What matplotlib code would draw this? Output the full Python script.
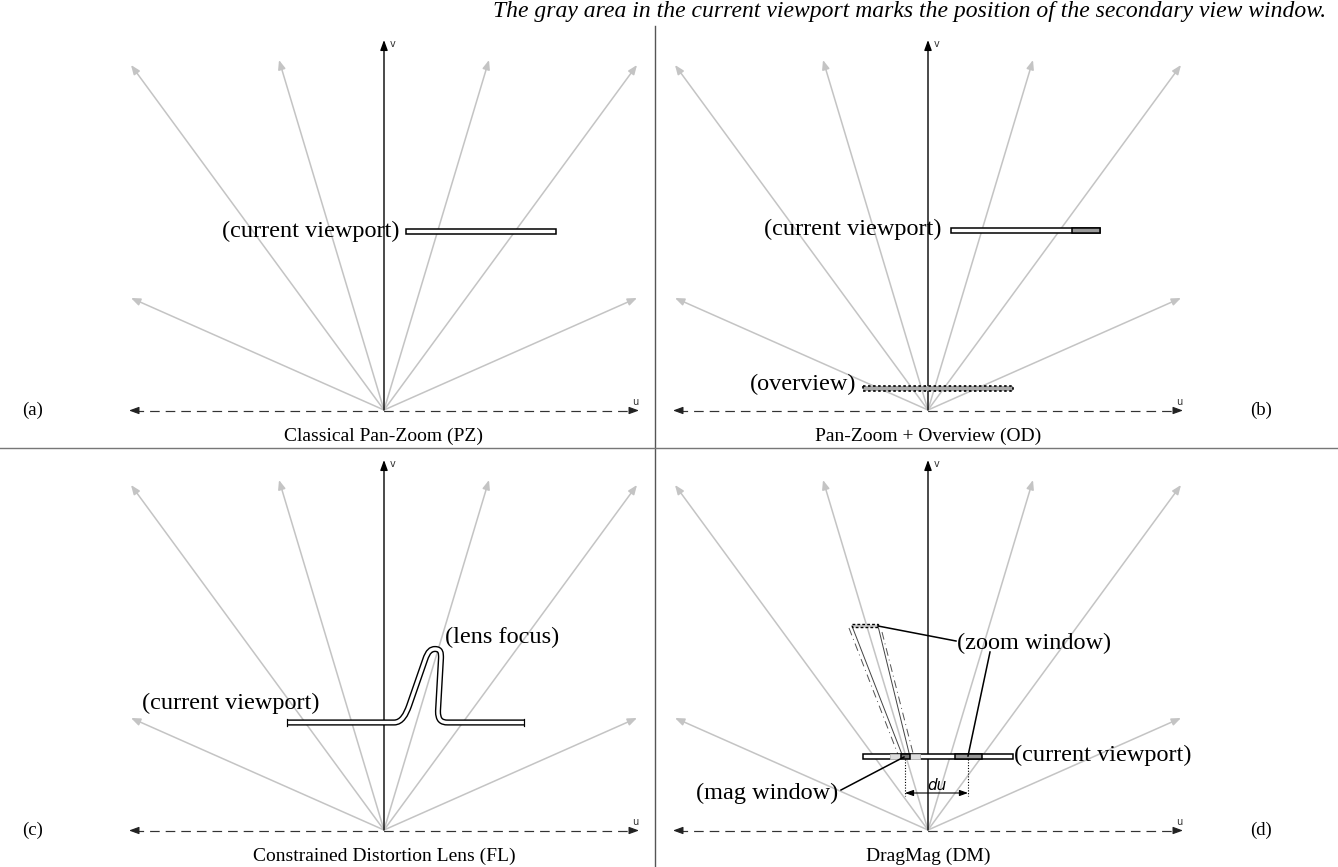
import matplotlib
matplotlib.use('Agg')
import matplotlib.pyplot as plt
from matplotlib.patches import Rectangle, PathPatch
from matplotlib.path import Path

# ---------------- data ----------------
panel_letters = ['(a)', '(b)', '(c)', '(d)']
panel_titles = ['Classical Pan-Zoom (PZ)', 'Pan-Zoom + Overview (OD)',
                'Constrained Distortion Lens (FL)', 'DragMag (DM)']
origins_x = [384, 928, 384, 928]
origins_y = [410, 410, 830, 830]
# ray tips relative to each panel origin (pixels, up positive)
ray_dx = [-253, -253, -105, 105, 253, 253]
ray_dy = [112, 345, 350, 350, 345, 112]
caption = ('The gray area in the current viewport marks the position '
           'of the secondary view window.')
label_viewport = '(current viewport)'
label_overview = '(overview)'
label_lens = '(lens focus)'
label_zoom = '(zoom window)'
label_mag = '(mag window)'
label_du = 'du'

W, H = 1338, 867
fig = plt.figure(figsize=(W / 100, H / 100), dpi=100)
ax = fig.add_axes([0, 0, 1, 1])
ax.set_xlim(0, W)
ax.set_ylim(H, 0)
ax.axis('off')

SERIF = ['Liberation Serif', 'DejaVu Serif']
SANS = ['DejaVu Sans']
RAY = '#c4c4c4'
PX = 0.72  # points per pixel
LBL = 17.5

# dividers
ax.plot([655, 655], [26, H], color='#555555', lw=1.0 * PX * 1.4)
ax.plot([0, W], [448, 448], color='#777777', lw=1.0 * PX * 1.4)

ax.text(1326, 12, caption, ha='right', va='center', fontsize=17,
        family=SERIF, style='italic')

for i in range(4):
    ox, oy = origins_x[i], origins_y[i]
    # rays
    for dx, dy in zip(ray_dx, ray_dy):
        ax.annotate('', xy=(ox + dx, oy - dy), xytext=(ox, oy),
                    arrowprops=dict(arrowstyle='-|>,head_length=0.55,head_width=0.22',
                                    color=RAY, lw=1.1 * PX * 1.4,
                                    shrinkA=0, shrinkB=0))
    # v axis
    ax.annotate('', xy=(ox, oy - 370), xytext=(ox, oy),
                arrowprops=dict(arrowstyle='-|>,head_length=0.6,head_width=0.22',
                                color='black', lw=1.0,
                                shrinkA=0, shrinkB=0))
    ax.text(ox + 9, oy - 366, 'v', fontsize=7, family=SANS, color='#333333',
            ha='center', va='center')
    # u axis dashed
    ax.plot([ox - 250, ox + 250], [oy + 0.5, oy + 0.5], color='#333333', lw=PX * 1.2,
            linestyle=(0, (8, 5)))
    for sgn in (-1, 1):
        ax.annotate('', xy=(ox + sgn * 255, oy + 0.5), xytext=(ox + sgn * 246, oy + 0.5),
                    arrowprops=dict(arrowstyle='-|>,head_length=0.6,head_width=0.22',
                                    color='#222222', lw=0.8,
                                    shrinkA=0, shrinkB=0))
    ax.text(ox + 251, oy - 8, 'u', fontsize=7, family=SANS, color='#333333',
            ha='center', va='center')
    # letters and titles
    lx = 22 if i % 2 == 0 else 1250
    ax.text(lx, oy, panel_letters[i], fontsize=13.5, family=SERIF,
            ha='left', va='center')
    ax.text(ox, oy + 26, panel_titles[i], fontsize=14, family=SERIF,
            ha='center', va='center')

def vp(x0, x1, yc, h=5, fc='white', ls='-', ec='black', lw=1.1, z=5):
    ax.add_patch(Rectangle((x0, yc - h / 2), x1 - x0, h, facecolor=fc,
                           edgecolor=ec, lw=lw * PX * 1.4, linestyle=ls, zorder=z))

# ---- panel (a)
vp(406, 556, 231.5)
ax.text(400, 231, label_viewport, fontsize=LBL, family=SERIF, ha='right', va='center')

# ---- panel (b)
vp(951, 1100, 230)
vp(1072, 1100, 230, fc='#9a9a9a', z=6)
ax.text(942, 229, label_viewport, fontsize=LBL, family=SERIF, ha='right', va='center')
vp(863, 1013, 388, h=5, fc='#a8a8a8', ls=(0, (1.5, 1.5)), lw=1.2)
ax.text(856, 384, label_overview, fontsize=LBL, family=SERIF, ha='right', va='center')

# ---- panel (c) lens
verts = [(287, 722.5), (394, 722.5),
         (402, 722.5), (406, 714), (409, 706),
         (425, 660),
         (428, 651), (431, 649), (435, 649),
         (441, 649), (441, 653), (441, 658),
         (438, 711),
         (438, 720), (441, 722.5), (448, 722.5),
         (524, 722.5)]
codes = [Path.MOVETO, Path.LINETO,
         Path.CURVE4, Path.CURVE4, Path.CURVE4,
         Path.LINETO,
         Path.CURVE4, Path.CURVE4, Path.CURVE4,
         Path.CURVE4, Path.CURVE4, Path.CURVE4,
         Path.LINETO,
         Path.CURVE4, Path.CURVE4, Path.CURVE4,
         Path.LINETO]
lens = Path(verts, codes)
ax.add_patch(PathPatch(lens, fill=False, edgecolor='black', lw=6.2 * PX,
                       capstyle='butt', joinstyle='round', zorder=5))
ax.add_patch(PathPatch(lens, fill=False, edgecolor='white', lw=3.4 * PX,
                       capstyle='butt', joinstyle='round', zorder=6))
for ex in (287, 524):
    ax.plot([ex, ex], [719.4, 725.6], color='black', lw=1.2 * PX, zorder=7)
ax.text(320, 703, label_viewport, fontsize=LBL, family=SERIF, ha='right', va='center')
ax.text(445, 637, label_lens, fontsize=LBL, family=SERIF, ha='left', va='center')

# ---- panel (d)
# frustum lines from zoom window to mag window
ax.plot([852, 903], [626, 757], color='#444444', lw=0.7 * PX * 1.4, zorder=3)
ax.plot([878, 910], [626, 757], color='#444444', lw=0.7 * PX * 1.4, zorder=3)
ax.plot([849, 899], [628, 757], color='#555555', lw=0.7 * PX * 1.4,
        linestyle=(0, (8, 4, 1, 4)), zorder=3)
ax.plot([882, 914], [632, 757], color='#555555', lw=0.7 * PX * 1.4,
        linestyle=(0, (8, 4, 1, 4)), zorder=3)
vp(852, 878, 625.5, h=3, fc='#cccccc', ls=(0, (2, 1.5)), lw=1.0)
vp(863, 1013, 756.5)
vp(890, 920, 756.5, fc='#dddddd', ec='#bbbbbb', lw=0.6, z=6)
vp(901, 910, 756.5, fc='#777777', z=7)
vp(955, 982, 756.5, fc='#9a9a9a', z=6)
ax.plot([878, 956], [626, 641], color='black', lw=1.1 * PX * 1.4, zorder=8)
ax.text(957, 643, label_zoom, fontsize=LBL, family=SERIF, ha='left', va='center')
ax.plot([990, 968], [652, 756], color='black', lw=1.1 * PX * 1.4, zorder=8)
ax.text(1014, 755, label_viewport, fontsize=LBL, family=SERIF, ha='left', va='center')
ax.plot([841, 904], [790, 757], color='black', lw=1.1 * PX * 1.4, zorder=8)
ax.text(838, 793, label_mag, fontsize=LBL, family=SERIF, ha='right', va='center')
for dxv in (905, 968):
    ax.plot([dxv, dxv], [759, 796], color='black', lw=0.8 * PX * 1.4,
            linestyle=(0, (1, 1.5)), zorder=8)
ax.annotate('', xy=(905, 793), xytext=(968, 793),
            arrowprops=dict(arrowstyle='<|-|>,head_length=0.5,head_width=0.18',
                            color='black', lw=0.8, shrinkA=0, shrinkB=0), zorder=8)
ax.text(937, 786, label_du, fontsize=11, family=SANS, style='italic',
        ha='center', va='center')

fig.savefig('out.png', dpi=100)
